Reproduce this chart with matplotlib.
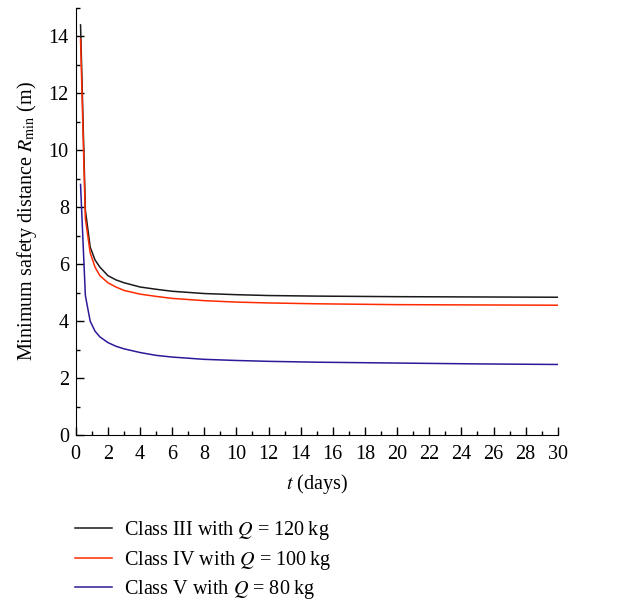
import numpy as np
import matplotlib.pyplot as plt
from matplotlib.ticker import MultipleLocator

plt.rcParams['font.family'] = ['Liberation Serif', 'DejaVu Serif']
plt.rcParams['mathtext.fontset'] = 'stix'

# sampled time points (days)
t = [0.3, 0.6, 0.9, 1.2, 1.5, 2.0, 2.5, 3.0, 4.0, 5.0, 6.0, 8.0, 10.0,
     12.0, 15.0, 20.0, 25.0, 30.0]

# minimum safety distance (m)
r_class3 = [14.4, 7.9, 6.6, 6.15, 5.9, 5.6, 5.45, 5.35, 5.2, 5.12, 5.05,
            4.97, 4.93, 4.9, 4.88, 4.86, 4.85, 4.84]
r_class4 = [13.9, 7.6, 6.4, 5.9, 5.6, 5.35, 5.2, 5.08, 4.95, 4.87, 4.8,
            4.72, 4.67, 4.64, 4.61, 4.58, 4.57, 4.56]
r_class5 = [8.8, 4.9, 4.0, 3.65, 3.45, 3.25, 3.12, 3.03, 2.9, 2.8, 2.74,
            2.66, 2.62, 2.59, 2.56, 2.53, 2.5, 2.48]

labels = ['Class III with $Q$ = 120\u2009kg',
          'Class IV with $Q$ = 100\u2009kg',
          'Class V with $Q$ = 80\u2009kg']
colors = ['#1a1a1a', '#ff2a00', '#2a1a99']

fig = plt.figure(figsize=(6.31, 6.01), dpi=100)
ax = fig.add_axes([0.12, 0.276, 0.764, 0.711])

for r, c, lab in zip([r_class3, r_class4, r_class5], colors, labels):
    ax.plot(t, r, color=c, linewidth=1.1, label=lab)

ax.set_xlim(0, 30)
ax.set_ylim(0, 15)
ax.xaxis.set_major_locator(MultipleLocator(2))
ax.xaxis.set_minor_locator(MultipleLocator(1))
ax.yaxis.set_major_locator(MultipleLocator(2))
ax.yaxis.set_minor_locator(MultipleLocator(1))
ax.tick_params(which='both', direction='in', labelsize=14.5, width=1)
ax.tick_params(which='major', length=6)
ax.tick_params(which='minor', length=3)
ax.tick_params(axis='x', pad=7)
ax.tick_params(axis='y', pad=5)
ax.spines['top'].set_visible(False)
ax.spines['right'].set_visible(False)

ax.set_xlabel('$t$ (days)', fontsize=14.5, labelpad=6)
ax.set_ylabel(r'Minimum safety distance $R_{\mathrm{min}}$ (m)', fontsize=14.5, labelpad=7)

handles, labs = ax.get_legend_handles_labels()
fig.legend(handles, labs, loc='upper left', bbox_to_anchor=(0.094, 0.163),
           frameon=False, fontsize=14.5, handlelength=1.8, handletextpad=0.6,
           labelspacing=0.33, borderpad=0.3)

fig.savefig('out.png', dpi=100)
